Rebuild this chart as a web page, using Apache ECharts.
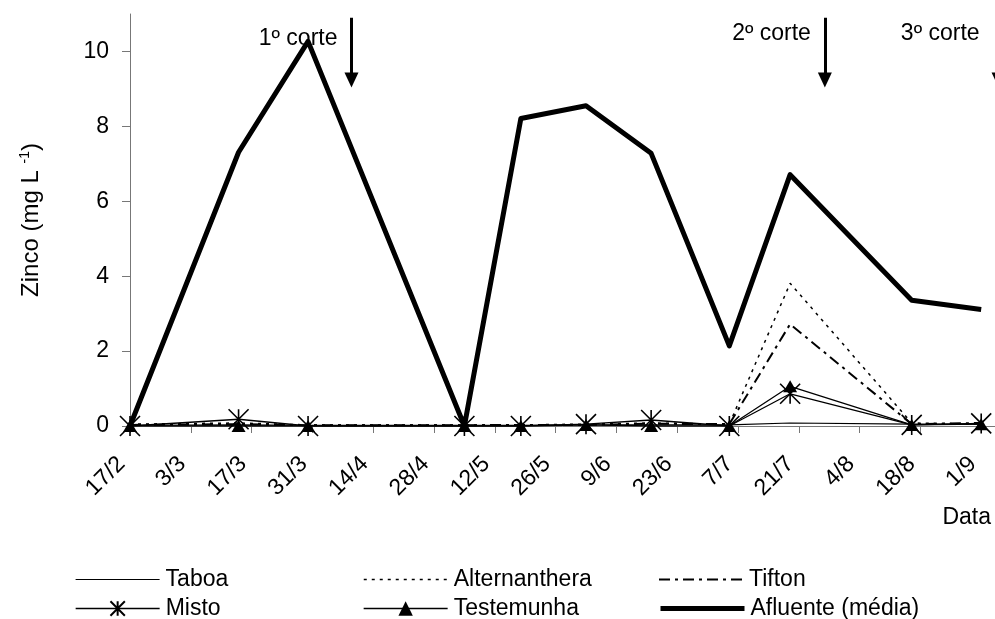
<!DOCTYPE html>
<html>
<head>
<meta charset="utf-8">
<script src="https://cdn.jsdelivr.net/npm/echarts@6/dist/echarts.min.js"></script>
<style>
html,body{margin:0;padding:0;background:#fff;}
#chart{width:995px;height:619px;}
</style>
</head>
<body>
<div id="chart"></div>
<script>
// sampling days (days after 17/2)
const days = [0, 25, 41, 77, 90, 105, 120, 138, 152, 180, 196];
const tickLabels = ['17/2','3/3','17/3','31/3','14/4','28/4','12/5','26/5','9/6','23/6','7/7','21/7','4/8','18/8','1/9'];
const taboa        = [0.02, 0.03, 0.02, 0.02, 0.02, 0.03, 0.03, 0.03, 0.08, 0.05, 0.05];
const alternanthera= [0.05, 0.08, 0.03, 0.03, 0.03, 0.05, 0.08, 0.05, 3.81, 0.08, 0.05];
const tifton       = [0.03, 0.05, 0.02, 0.02, 0.03, 0.03, 0.06, 0.05, 2.72, 0.05, 0.08];
const misto        = [0.00, 0.18, 0.00, 0.00, 0.00, 0.05, 0.16, 0.00, 0.86, 0.03, 0.07];
const testemunha   = [0.00, 0.00, 0.00, 0.00, 0.00, 0.03, 0.00, 0.00, 1.06, 0.03, 0.05];
const afluente     = [0.00, 7.31, 10.27, 0.00, 8.21, 8.55, 7.28, 2.14, 6.71, 3.36, 3.11];
// cuts (harvests)
const cutDays   = [51, 160, 200];
const cutLabels = ['1º corte', '2º corte', '3º corte'];

const FONT = 'Liberation Sans, Arial, sans-serif';
const pairs = vals => days.map((d, i) => [d, vals[i]]);
const star = 'path://M0,0L20,20M0,20L20,0M10,0L10,20';
const xTicks = tickLabels.map((t, i) => i * 14);

const chart = echarts.init(document.getElementById('chart'), null, {renderer: 'canvas'});

const legendPos = [
  ['Taboa', 75, 568, true, 1.2, 'solid'], ['Alternanthera', 363, 568, true, 1.5, [3, 5]], ['Tifton', 658, 568, true, 2, [11, 5, 3, 5]],
  ['Misto', 75, 597, false, 1.3, 'solid'], ['Testemunha', 363, 597, false, 1.3, 'solid'], ['Afluente (média)', 658, 597, true, 5, 'solid']
];

const option = {
  animation: false,
  backgroundColor: '#fff',
  textStyle: {fontFamily: FONT},
  grid: {left: 130, top: 14, bottom: 193, right: -47, containLabel: false, outerBoundsMode: 'none'},
  legend: legendPos.map(([n, l, t, hideSym, w, tp]) => ({
    data: [n], left: l, top: t, itemWidth: 84, itemHeight: 18, padding: 0,
    itemStyle: hideSym ? {opacity: 0} : {},
    lineStyle: {width: w, type: tp, color: '#000'},
    textStyle: {fontSize: 23, color: '#000', fontFamily: FONT, padding: [0, 0, 0, 1]},
    selectedMode: false
  })),
  xAxis: {
    type: 'value', min: 0, max: 210, interval: 14,
    axisLine: {show: true, lineStyle: {color: '#777', width: 1}},
    axisTick: {show: true, length: 7, lineStyle: {color: '#777'}},
    splitLine: {show: false},
    axisLabel: {
      rotate: 45, margin: 26, padding: [0, 12, 0, 0], fontSize: 23, color: '#000', fontFamily: FONT, customValues: xTicks,
      formatter: v => tickLabels[Math.round(v / 14)] || ''
    }
  },
  yAxis: {
    type: 'value', min: 0, max: 11, interval: 2,
    axisLine: {show: true, lineStyle: {color: '#777', width: 1}},
    axisTick: {show: true, length: 8, lineStyle: {color: '#777'}, customValues: [0, 2, 4, 6, 8, 10]},
    splitLine: {show: false},
    axisLabel: {margin: 21, fontSize: 23, color: '#000', fontFamily: FONT, customValues: [0, 2, 4, 6, 8, 10]},
    name: 'Zinco (mg L {sup|-1})',
    nameLocation: 'middle', nameRotate: 90, nameGap: 86,
    nameTextStyle: {fontSize: 24, color: '#000', fontFamily: FONT,
      rich: {sup: {fontSize: 14, color: '#000', fontFamily: FONT, verticalAlign: 'top', padding: [0, 0, 12, 0]}}}
  },
  graphic: [{
    type: 'text', right: 4, top: 506,
    style: {text: 'Data', fontSize: 23, fill: '#000', fontFamily: FONT}
  }],
  series: [
    {
      name: 'Taboa', type: 'line', data: pairs(taboa), symbol: 'none',
      lineStyle: {color: '#000', width: 1.2, type: 'solid'}, itemStyle: {color: '#000'},
      markLine: {
        silent: true, z: 1, symbol: ['none', 'triangle'], symbolSize: [14, 15],
        label: {show: false},
        lineStyle: {color: '#000', width: 3, type: 'solid'},
        data: cutDays.map(d => [{coord: [d, 10.9]}, {coord: [d, 9.24]}])
      },
      markPoint: {
        silent: true, z: 1, symbol: 'circle', symbolSize: 0,
        label: {show: true, position: 'left', distance: 14, fontSize: 23, color: '#000', fontFamily: FONT, formatter: '{b}'},
        data: cutDays.map((d, i) => ({name: cutLabels[i], coord: [d, i === 0 ? 10.33 : 10.47],
          label: i === 2 ? {distance: 19} : {}}))
      }
    },
    {
      name: 'Alternanthera', type: 'line', data: pairs(alternanthera), symbol: 'none',
      lineStyle: {color: '#000', width: 1.5, type: [3, 5]}, itemStyle: {color: '#000'}
    },
    {
      name: 'Tifton', type: 'line', data: pairs(tifton), symbol: 'none',
      lineStyle: {color: '#000', width: 2, type: [11, 5, 3, 5]}, itemStyle: {color: '#000'}
    },
    {
      name: 'Misto', type: 'line', data: pairs(misto), symbol: star, symbolSize: 20, showSymbol: true,
      lineStyle: {color: '#000', width: 1.3}, itemStyle: {color: '#000', borderColor: '#000', borderWidth: 1.6}
    },
    {
      name: 'Testemunha', type: 'line', data: pairs(testemunha), symbol: 'triangle', symbolSize: [14, 12], showSymbol: true,
      lineStyle: {color: '#000', width: 1.3}, itemStyle: {color: '#000', borderWidth: 0}
    },
    {
      name: 'Afluente (média)', type: 'line', data: pairs(afluente), symbol: 'none',
      lineStyle: {color: '#000', width: 5, join: 'round'}, itemStyle: {color: '#000'}
    }
  ]
};
chart.setOption(option);
</script>
</body>
</html>
